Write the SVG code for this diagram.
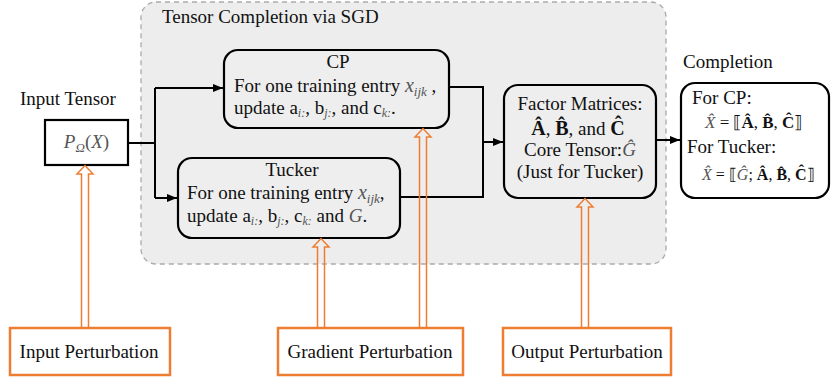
<svg xmlns="http://www.w3.org/2000/svg" width="831" height="382" viewBox="0 0 831 382" font-family="Liberation Serif, serif" font-size="19" fill="#111">
<style>
.m{font-style:italic;fill:#555}
.b{font-weight:bold}
.c{text-anchor:middle}
.node{fill:none;stroke:#000;stroke-width:2.2}
.rbox{fill:#eeeeee;stroke:#000;stroke-width:2.2}
.pbox{fill:#fff;stroke:#ED7D31;stroke-width:2.5}
.conn{fill:none;stroke:#000;stroke-width:2}
.harr{fill:none;stroke:#ED7D31;stroke-width:1.5}
</style>
<defs>
<marker id="ah" viewBox="0 0 10 10" refX="10" refY="5" markerWidth="5" markerHeight="5" orient="auto">
<path d="M0,1 L10,5 L0,9 z" fill="#000"/>
</marker>
</defs>
<rect width="831" height="382" fill="#fff"/>
<g id="container">
<rect x="141" y="2" width="525" height="262" rx="15" fill="#ededed" stroke="#aaa" stroke-width="1.3" stroke-dasharray="5,4"/>
<text x="162" y="23">Tensor Completion via SGD</text>
</g>
<g id="connectors">
<path class="conn" d="M128,143 H155 M155,88 V198"/>
<path class="conn" d="M155,88 H223" marker-end="url(#ah)"/>
<path class="conn" d="M155,198 H177" marker-end="url(#ah)"/>
<path class="conn" d="M449,87 H483 V197 H400"/>
<path class="conn" d="M483,142 H503" marker-end="url(#ah)"/>
<path class="conn" d="M656,140 H680" marker-end="url(#ah)"/>
</g>
<g id="input-tensor">
<text x="20" y="105">Input Tensor</text>
<rect class="node" x="45" y="120" width="83" height="45" fill="#fff"/>
<text x="86.5" y="148" class="c"><tspan class="m">P</tspan><tspan class="m" font-size="13" dy="4">Ω</tspan><tspan dy="-4" fill="#555">(</tspan><tspan class="m">X</tspan><tspan fill="#555">)</tspan></text>
</g>
<g id="cp">
<rect class="rbox" x="224" y="50" width="225" height="78" rx="14"/>
<text x="338" y="68" class="c">CP</text>
<text x="234" y="92">For one training entry <tspan class="m" font-size="20">x</tspan><tspan class="m" font-size="13" dy="4">ijk</tspan><tspan dy="-4"> ,</tspan></text>
<text x="234" y="114">update a<tspan font-size="12" dy="3" class="m">i:</tspan><tspan dy="-3">, b</tspan><tspan font-size="12" dy="3" class="m">j:</tspan><tspan dy="-3">, and c</tspan><tspan font-size="12" dy="3" class="m">k:</tspan><tspan dy="-3">.</tspan></text>
</g>
<g id="tucker">
<rect class="rbox" x="178" y="158" width="222" height="80" rx="14"/>
<text x="292" y="176" class="c">Tucker</text>
<text x="187" y="199">For one training entry <tspan class="m" font-size="20">x</tspan><tspan class="m" font-size="13" dy="4">ijk</tspan><tspan dy="-4">,</tspan></text>
<text x="187" y="222">update a<tspan font-size="12" dy="3" class="m">i:</tspan><tspan dy="-3">, b</tspan><tspan font-size="12" dy="3" class="m">j:</tspan><tspan dy="-3">, c</tspan><tspan font-size="12" dy="3" class="m">k:</tspan><tspan dy="-3"> and </tspan><tspan class="m">G</tspan><tspan>.</tspan></text>
</g>
<g id="factors">
<rect class="rbox" x="504" y="85" width="152" height="113" rx="14"/>
<text x="580" y="110" class="c">Factor Matrices:</text>
<text x="578" y="135" class="c"><tspan class="b" font-size="20">Â</tspan>, <tspan class="b" font-size="20">B̂</tspan>, and <tspan class="b" font-size="20">Ĉ</tspan></text>
<text x="580" y="156" class="c">Core Tensor:<tspan class="m">Ĝ</tspan></text>
<text x="580" y="178" class="c">(Just for Tucker)</text>
</g>
<g id="completion">
<text x="683" y="68">Completion</text>
<rect class="node" x="681" y="83" width="148" height="115" rx="14" fill="#fff"/>
<text x="692" y="104">For CP:</text>
<text x="705" y="128" font-size="17"><tspan class="m">X̂</tspan> = ⟦<tspan class="b">Â</tspan>, <tspan class="b">B̂</tspan>, <tspan class="b">Ĉ</tspan>⟧</text>
<text x="687" y="153">For Tucker:</text>
<text x="702" y="180" font-size="16"><tspan class="m">X̂</tspan> = ⟦<tspan class="m">Ĝ</tspan>; <tspan class="b">Â</tspan>, <tspan class="b">B̂</tspan>, <tspan class="b">Ĉ</tspan>⟧</text>
</g>
<g id="perturbation-arrows">
<path class="harr" d="M81.5,328 V174 H77 L85,165.5 L93,174 H88.5 V328"/>
<path class="harr" d="M317.5,328 V247 H313 L321,238.5 L329,247 H324.5 V328"/>
<path class="harr" d="M419.5,328 V137 H415 L423,128.5 L431,137 H426.5 V328"/>
<path class="harr" d="M581.5,328 V207 H577 L585,198.5 L593,207 H588.5 V328"/>
</g>
<g id="input-perturbation">
<rect class="pbox" x="10" y="328" width="160" height="47"/>
<text x="89" y="358" class="c">Input Perturbation</text>
</g>
<g id="gradient-perturbation">
<rect class="pbox" x="278" y="328" width="185" height="47"/>
<text x="370" y="358" class="c">Gradient Perturbation</text>
</g>
<g id="output-perturbation">
<rect class="pbox" x="503" y="328" width="168" height="47"/>
<text x="587" y="358" class="c">Output Perturbation</text>
</g>
</svg>
